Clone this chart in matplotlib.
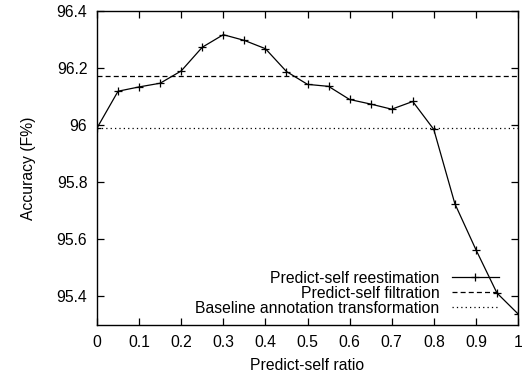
import matplotlib
matplotlib.use("Agg")
import matplotlib.pyplot as plt

ratio = [0.0, 0.05, 0.1, 0.15, 0.2, 0.25, 0.3, 0.35, 0.4, 0.45, 0.5,
         0.55, 0.6, 0.65, 0.7, 0.75, 0.8, 0.85, 0.9, 0.95, 1.0]
reestimation = [95.99, 96.119, 96.134, 96.147, 96.19, 96.273, 96.317, 96.297,
                96.268, 96.188, 96.143, 96.136, 96.09, 96.074, 96.056, 96.083,
                95.985, 95.725, 95.564, 95.412, 95.339]
filtration = 96.171
baseline = 95.99

x_ticks = [0, 0.1, 0.2, 0.3, 0.4, 0.5, 0.6, 0.7, 0.8, 0.9, 1.0]
x_ticklabels = ["0", "0.1", "0.2", "0.3", "0.4", "0.5", "0.6", "0.7", "0.8", "0.9", "1"]
y_ticks = [95.4, 95.6, 95.8, 96.0, 96.2, 96.4]
y_ticklabels = ["95.4", "95.6", "95.8", "96", "96.2", "96.4"]

plt.rcParams['font.family'] = ['Liberation Sans', 'DejaVu Sans']
fs = 11.3
plt.rcParams['font.size'] = fs

fig = plt.figure(figsize=(5.26, 3.77), dpi=100)
ax = fig.add_axes([97/526, 52/377, 421/526, 314/377])

ax.plot(ratio, reestimation, color='black', lw=0.9, marker='+', ms=6, mew=0.9,
        label='Predict-self reestimation')
ax.axhline(filtration, color='black', lw=0.9, ls=(0, (4, 2.5)),
           label='Predict-self filtration')
ax.axhline(baseline, color='black', lw=0.9, ls=(0, (1, 2.5)),
           label='Baseline annotation transformation')

ax.set_xlim(0, 1)
ax.set_ylim(95.3, 96.4)
ax.set_xticks(x_ticks)
ax.set_xticklabels(x_ticklabels)
ax.set_yticks(y_ticks)
ax.set_yticklabels(y_ticklabels)
ax.tick_params(direction='in', length=5, width=0.9, top=True, right=True,
               labelsize=fs, pad=7)
for s in ax.spines.values():
    s.set_linewidth(1.0)

ax.set_xlabel('Predict-self ratio', fontsize=fs, labelpad=6)
ax.set_ylabel('Accuracy (F%)', fontsize=fs, labelpad=15)

ax.legend(loc='lower right', bbox_to_anchor=(0.98, -0.005), frameon=False,
          markerfirst=False, handlelength=3.0, handletextpad=0.75,
          labelspacing=0.0, borderaxespad=0.3, fontsize=fs)

fig.savefig('out.png', dpi=100)
